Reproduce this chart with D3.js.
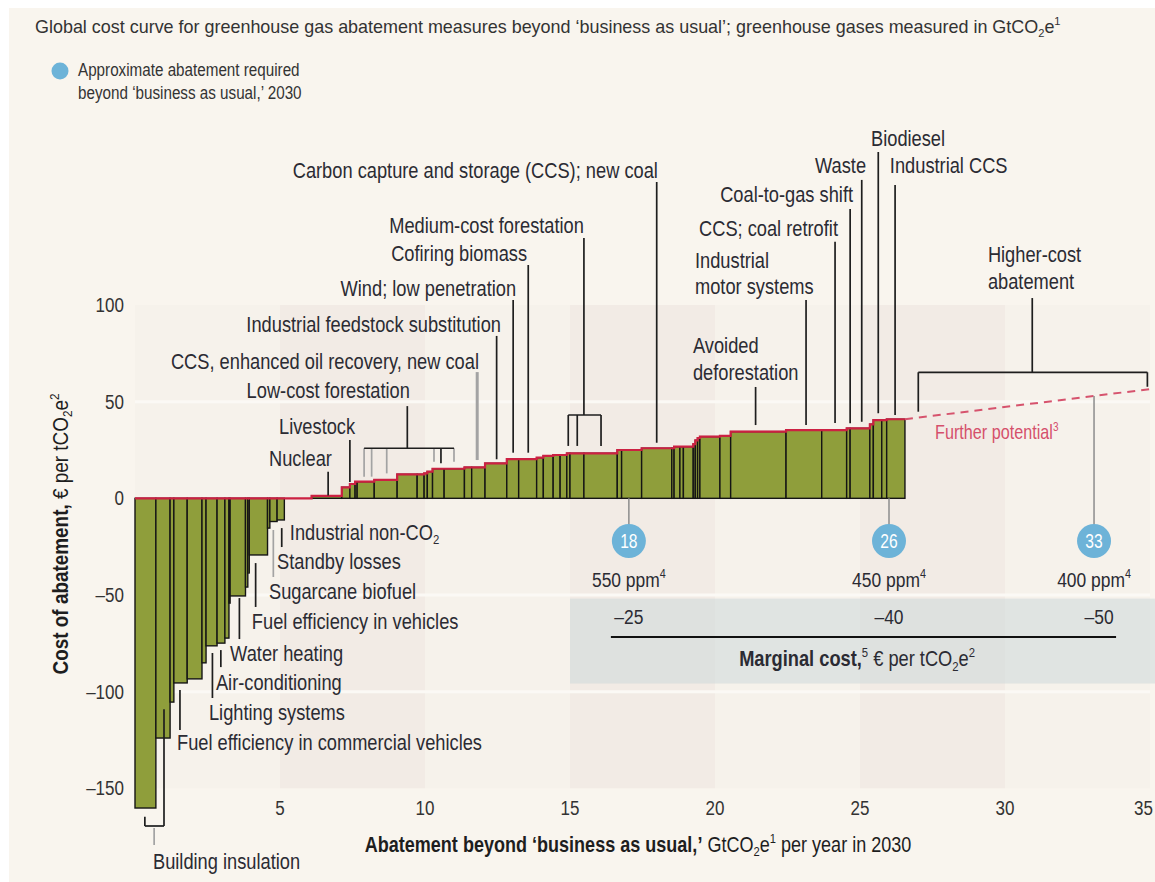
<!DOCTYPE html>
<html><head><meta charset="utf-8">
<script src="https://cdn.jsdelivr.net/npm/d3@7"></script>
<style>
html,body{margin:0;padding:0;background:#fff;}
svg{display:block;}
text{font-family:"Liberation Sans",Arial,sans-serif;white-space:pre;}
</style></head><body>
<svg id="chart" width="1155" height="882"></svg>
<script>
// ---------------- DATA ----------------
// Abatement measures in order of cost: width = abatement (GtCO2e), cost = € per tCO2e
const measureWidths = [
  0.72, 0.49, 0.13, 0.46, 0.51, 0.14, 0.38, 0.27, 0.14, 0.04, 0.53, 0.08, 0.05, 0.63, 0.08, 0.25, 0.25,
  0.94,
  1.04, 0.28, 0.18, 0.07, 0.59, 0.79, 0.69, 0.24, 0.11, 0.18, 0.40, 0.70, 0.25, 0.46, 0.75, 0.41, 0.62,
  0.23, 0.34, 0.24, 0.23, 0.11, 0.48, 1.15, 0.15, 0.69, 1.04, 0.08, 0.20, 0.12, 0.34, 0.07, 0.08, 0.08,
  0.69, 0.37, 1.91, 1.23, 0.86, 0.12, 0.68, 0.12, 0.29, 0.17, 0.63
];
const measureCosts = [
  -160.2, -124, -105.4, -95.5, -93.4, -85.1, -76.3, -74.9, -72.3, -54.2, -50.5, -45.9, -38.6, -29.3, -15.4, -12, -11.2,
  0,
  1.3, 5.7, 7.4, 8.6, 8.6, 9.5, 12.4, 12.4, 12.9, 13.8, 15.3, 15.3, 16, 16, 18.1, 20.3, 20.3,
  21, 22, 22.4, 22.4, 23.3, 23.3, 23.3, 25, 25, 25.9, 25.9, 26.7, 26.7, 26.7, 28, 30, 31.2,
  31.9, 32.3, 34.5, 35.3, 35.3, 36.2, 36.2, 38.3, 40.5, 40.5, 40.9
];
const furtherPotential = [[26.55, 40.9], [35, 56.5]];
const xTicks = [5, 10, 15, 20, 25, 30, 35];
const yTicks = [100, 50, 0, -50, -100, -150];
const yTickLabels = ["100", "50", "0", "–50", "–100", "–150"];
const targetPositions = [17.03, 26.0, 33.07];
const targetValues = ["18", "26", "33"];
const ppmLabels = ["550 ppm^4", "450 ppm^4", "400 ppm^4"];
const marginalCosts = ["–25", "–40", "–50"];

// annotation text (x, y in data units)
const labels = [
  ["Nuclear", 6.79, 16.7, "end"],
  ["Livestock", 7.59, 33.3, "end"],
  ["Low-cost forestation", 9.48, 52.0, "end"],
  ["CCS, enhanced oil recovery, new coal", 11.86, 66.9, "end"],
  ["Industrial feedstock substitution", 12.62, 86.0, "end"],
  ["Wind; low penetration", 13.14, 104.6, "end"],
  ["Cofiring biomass", 13.52, 122.7, "end"],
  ["Medium-cost forestation", 15.48, 137.2, "end"],
  ["Carbon capture and storage (CCS); new coal", 18.03, 165.7, "end"],
  ["Avoided", 19.24, 75.2, "start"],
  ["deforestation", 19.24, 61.2, "start"],
  ["Industrial", 19.31, 119.0, "start"],
  ["motor systems", 19.31, 105.6, "start"],
  ["CCS; coal retrofit", 24.24, 135.6, "end"],
  ["Coal-to-gas shift", 24.76, 153.3, "end"],
  ["Waste", 25.21, 168.3, "end"],
  ["Biodiesel", 25.38, 182.3, "start"],
  ["Industrial CCS", 26.03, 168.3, "start"],
  ["Higher-cost", 29.41, 122.2, "start"],
  ["abatement", 29.41, 108.2, "start"],
  ["Industrial non-CO_2", 5.34, -21.6, "start"],
  ["Standby losses", 4.90, -36.6, "start"],
  ["Sugarcane biofuel", 4.62, -52.1, "start"],
  ["Fuel efficiency in vehicles", 4.03, -67.6, "start"],
  ["Water heating", 3.28, -84.2, "start"],
  ["Air-conditioning", 2.79, -99.2, "start"],
  ["Lighting systems", 2.55, -114.7, "start"],
  ["Fuel efficiency in commercial vehicles", 1.45, -130.2, "start"],
  ["Building insulation", 0.62, -191.8, "start"]
];
// vertical leader lines: x, yTop, yBottom, kind (0 black, 1 grey, 2 thick grey)
const leaders = [
  [6.66, 13.8, 1.5, 0], [7.41, 30.2, 8.4, 0],
  [9.39, 47.7, 25.9, 0], [7.90, 25.9, 11.2, 1], [8.16, 25.9, 11.2, 1], [8.68, 25.9, 12.9, 1],
  [10.31, 25.9, 18.9, 1], [10.55, 25.9, 18.1, 0], [11.00, 25.9, 18.9, 1],
  [11.80, 65.3, 19.8, 2], [12.47, 84.0, 20.2, 0], [13.04, 102.6, 23.6, 0], [13.56, 120.7, 23.6, 0],
  [15.48, 134.7, 43.1, 0], [14.94, 43.1, 27.1, 0], [15.25, 43.1, 27.1, 0], [16.07, 43.1, 27.1, 0],
  [17.99, 163.6, 28.8, 0], [21.40, 57.6, 37.9, 0], [23.14, 102.6, 37.9, 0], [24.14, 132.7, 38.9, 0],
  [24.66, 149.7, 38.8, 0], [25.06, 164.7, 39.6, 0], [25.63, 179.1, 44.0, 0], [26.21, 162.1, 43.1, 0],
  [30.94, 103.6, 65.2, 0], [27.01, 65.2, 44.8, 0], [34.91, 65.2, 57.7, 0],
  [5.06, -15.4, -25.2, 0], [4.77, -16.4, -40.7, 1], [4.16, -33.5, -56.2, 0], [3.60, -51.6, -72.8, 0],
  [2.96, -78.5, -87.3, 0], [2.67, -80.0, -103.3, 0], [1.55, -99.2, -119.8, 0],
  [0.34, -164.7, -169.5, 0], [1.00, -109.1, -169.5, 0], [0.66, -170.5, -179.3, 1]
];
// bracket horizontals: x1, x2, y
const brackets = [[7.90, 11.0, 25.9], [14.94, 16.07, 43.1], [27.01, 34.91, 65.2], [0.34, 1.00, -169.5]];

// ---------------- STYLE ----------------
const TEXT = "#2b2b33";
const K = 0.83;
const svg = d3.select("#chart");
const x = d3.scaleLinear().domain([0, 35]).range([135, 1150]);
const y = d3.scaleLinear().domain([-150, 100]).range([788.3, 305]);

function parseSegs(str) {
  const segs = []; let bold = false; let buf = "";
  const push = (t, type) => { if (t) segs.push({t, type, bold}); };
  for (let i = 0; i < str.length; i++) {
    const c = str[i];
    if (str.startsWith("<b>", i)) { push(buf, "n"); buf = ""; bold = true; i += 2; continue; }
    if (str.startsWith("</b>", i)) { push(buf, "n"); buf = ""; bold = false; i += 3; continue; }
    if (c === "_" || c === "^") { push(buf, "n"); buf = ""; push(str[i + 1], c === "_" ? "sub" : "sup"); i++; continue; }
    buf += c;
  }
  push(buf, "n");
  return segs;
}
function drawText(g, str, px, py, o) {
  const size = o.size, k = o.k || K;
  const t = g.append("text")
    .attr("transform", `translate(${px},${py})${o.rotate ? ` rotate(${o.rotate})` : ""} scale(${k},1)`)
    .attr("text-anchor", o.anchor || "start")
    .attr("font-size", size)
    .attr("fill", o.fill || TEXT)
    .attr("font-weight", o.weight || 400);
  let shift = 0;
  parseSegs(str).forEach(s => {
    const sp = t.append("tspan").text(s.t);
    const target = s.type === "sup" ? -0.42 * size : s.type === "sub" ? 0.2 * size : 0;
    if (target !== shift) { sp.attr("dy", target - shift); shift = target; }
    if (s.type !== "n") sp.attr("font-size", size * 0.62);
    if (s.bold) sp.attr("font-weight", 700);
  });
  return t;
}

// panel background
svg.append("rect").attr("x", 0).attr("y", 0).attr("width", 1155).attr("height", 882).attr("fill", "#ffffff");
svg.append("rect").attr("x", 9).attr("y", 8).attr("width", 1146).attr("height", 874).attr("fill", "#f9f5ee");

// bands
const bands = d3.range(0, 35, 5);
svg.append("g").selectAll("rect").data(bands).join("rect")
  .attr("x", d => x(d)).attr("width", d => x(d + 5) - x(d))
  .attr("y", y(100)).attr("height", y(-150) - y(100))
  .attr("fill", (d, i) => i % 2 ? "#f2ebe5" : "#f6f2eb");
svg.append("g").selectAll("line").data([50, -50, -100]).join("line")
  .attr("x1", x(0)).attr("x2", x(35)).attr("y1", d => y(d)).attr("y2", d => y(d))
  .attr("stroke", "#fbf9f5").attr("stroke-width", 3);

// marginal-cost box
svg.append("rect").attr("x", x(15)).attr("y", y(-51.9)).attr("width", 1155 - x(15)).attr("height", y(-95.8) - y(-51.9))
  .attr("fill", "#cdd8db").attr("opacity", 0.55);

// bars
let acc = 0;
const bars = measureWidths.map((w, i) => { const d = {x0: acc, x1: acc + w, c: measureCosts[i]}; acc += w; return d; });
svg.append("g").selectAll("rect").data(bars.filter(d => d.c !== 0)).join("rect")
  .attr("x", d => x(d.x0)).attr("width", d => x(d.x1) - x(d.x0))
  .attr("y", d => y(Math.max(0, d.c))).attr("height", d => Math.abs(y(d.c) - y(0)))
  .attr("fill", "#8f9e3b").attr("stroke", "#151515").attr("stroke-width", 1.4);

// cost curve outline
const pts = [];
bars.forEach(d => { pts.push([d.x0, Math.max(0, d.c)]); pts.push([d.x1, Math.max(0, d.c)]); });
svg.append("path").attr("d", d3.line().x(d => x(d[0])).y(d => y(d[1]))(pts))
  .attr("fill", "none").attr("stroke", "#cc2142").attr("stroke-width", 2.2);
svg.append("path").attr("d", d3.line().x(d => x(d[0])).y(d => y(d[1]))(furtherPotential))
  .attr("fill", "none").attr("stroke", "#d6536d").attr("stroke-width", 2).attr("stroke-dasharray", "8,6");

// leaders
const lg = svg.append("g");
lg.selectAll("line.v").data(leaders).join("line")
  .attr("x1", d => x(d[0])).attr("x2", d => x(d[0])).attr("y1", d => y(d[1])).attr("y2", d => y(d[2]))
  .attr("stroke", d => d[3] ? "#a3a3a3" : "#1e1e1e").attr("stroke-width", d => d[3] === 2 ? 3 : 1.7);
lg.selectAll("line.h").data(brackets).join("line")
  .attr("x1", d => x(d[0])).attr("x2", d => x(d[1])).attr("y1", d => y(d[2])).attr("y2", d => y(d[2]))
  .attr("stroke", "#1e1e1e").attr("stroke-width", 1.7);

// target bubbles
const bubbleY = y(-22.1);
const stemTop = targetPositions.map(p => p > furtherPotential[0][0]
  ? furtherPotential[0][1] + (furtherPotential[1][1] - furtherPotential[0][1]) * (p - furtherPotential[0][0]) / (furtherPotential[1][0] - furtherPotential[0][0])
  : 0);
const bg = svg.append("g");
targetPositions.forEach((p, i) => {
  bg.append("line").attr("x1", x(p)).attr("x2", x(p)).attr("y1", y(stemTop[i])).attr("y2", bubbleY)
    .attr("stroke", "#8c8c8c").attr("stroke-width", 1.5);
  bg.append("circle").attr("cx", x(p)).attr("cy", bubbleY).attr("r", 17).attr("fill", "#6db3d8");
  drawText(bg, targetValues[i], x(p), bubbleY + 7, {size: 20, k: 0.78, anchor: "middle", fill: "#ffffff"});
  drawText(bg, ppmLabels[i], x(p), y(-45.9), {size: 21, anchor: "middle"});
  drawText(bg, marginalCosts[i], x(p) + (i === 2 ? 5 : 0), y(-65), {size: 21, anchor: "middle"});
});
svg.append("line").attr("x1", x(16.41)).attr("x2", x(33.83)).attr("y1", y(-71.8)).attr("y2", y(-71.8))
  .attr("stroke", "#111").attr("stroke-width", 2);
drawText(svg, "<b>Marginal cost,</b>^5 € per tCO_2e^2", x(24.9), y(-86.8), {size: 22, anchor: "middle"});

// annotation labels
const tg = svg.append("g");
labels.forEach(l => drawText(tg, l[0], x(l[1]), y(l[2]), {size: 22, anchor: l[3]}));
drawText(tg, "Further potential^3", x(27.59), y(30.6), {size: 19.5, fill: "#d5506b"});

// axes tick labels
yTicks.forEach((t, i) => drawText(svg, yTickLabels[i], 124, y(t) + 7, {size: 20.5, anchor: "end", fill: "#333"}));
xTicks.forEach((t, i) => drawText(svg, String(t), i === xTicks.length - 1 ? 1153 : x(t), 815,
  {size: 20.5, anchor: i === xTicks.length - 1 ? "end" : "middle", fill: "#333"}));

// axis titles
drawText(svg, "<b>Abatement beyond ‘business as usual,’</b> GtCO_2e^1 per year in 2030", 638, 852, {size: 22, k: 0.82, anchor: "middle", fill: "#1e1e1e"});
drawText(svg, "<b>Cost of abatement,</b> € per tCO_2e^2", 68, 534, {size: 22, k: 0.86, anchor: "middle", rotate: -90, fill: "#1e1e1e"});

// title and legend
drawText(svg, "Global cost curve for greenhouse gas abatement measures beyond ‘business as usual’; greenhouse gases measured in GtCO_2e^1", 35, 33, {size: 19, k: 0.945, fill: "#333"});
svg.append("circle").attr("cx", 60).attr("cy", 71).attr("r", 8.5).attr("fill", "#6db3d8");
drawText(svg, "Approximate abatement required", 78, 76, {size: 17.5, k: 0.87, fill: "#333"});
drawText(svg, "beyond ‘business as usual,’ 2030", 78, 99, {size: 17.5, k: 0.87, fill: "#333"});
</script>
</body></html>
